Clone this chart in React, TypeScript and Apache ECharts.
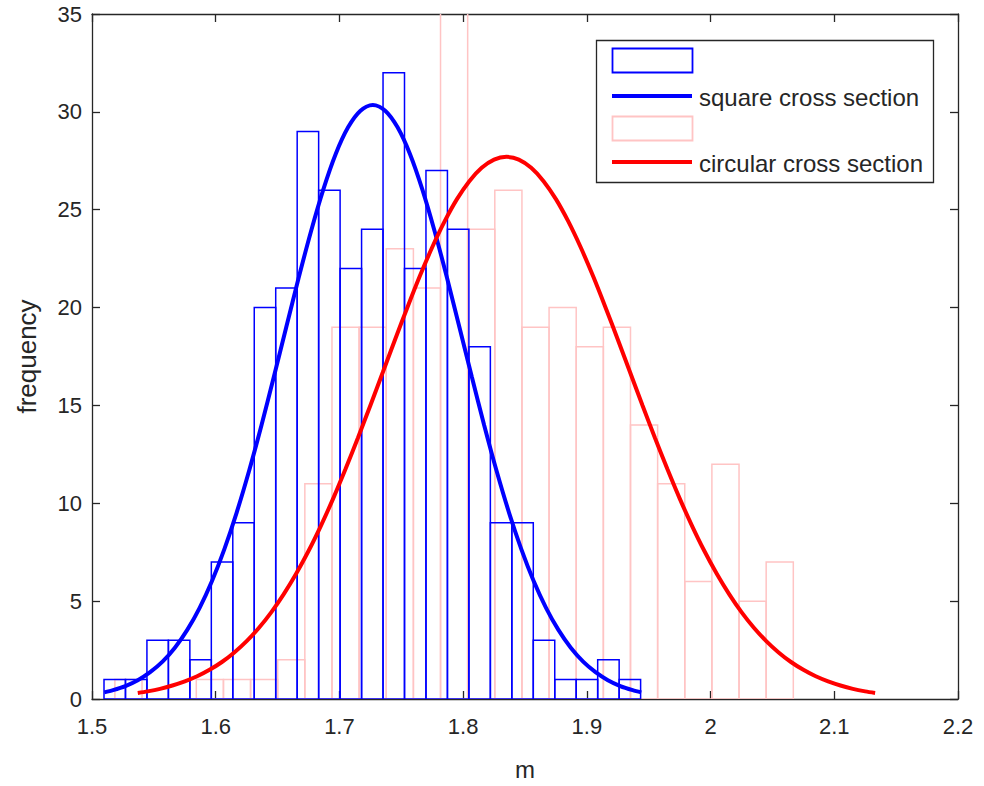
import React, { useEffect, useRef } from "react";
import * as echarts from "echarts";

// ---- data ----
const xAxisMin = 1.5;
const xAxisMax = 2.2;
const xAxisStep = 0.1;
const yAxisMin = 0;
const yAxisMax = 35;
const yAxisStep = 5;

const squareBinStart = 1.5097;
const squareBinWidth = 0.01735;
const squareCounts = [1, 1, 3, 3, 2, 7, 9, 20, 21, 29, 26, 22, 24, 32, 22, 27, 24, 18, 9, 9, 3, 1, 1, 2, 1];

const circularBinStart = 1.5185;
const circularBinWidth = 0.021935;
const circularCounts = [1, 0, 0, 1, 1, 1, 2, 11, 19, 19, 23, 21, 37, 24, 26, 19, 20, 18, 19, 14, 11, 6, 12, 5, 7];

const squareFitX = [
  1.51, 1.517, 1.527, 1.537, 1.547, 1.557, 1.567, 1.577, 1.587, 1.597, 1.607, 1.617, 1.627, 1.637, 1.647,
  1.657, 1.667, 1.677, 1.687, 1.697, 1.707, 1.717, 1.727, 1.737, 1.747, 1.757, 1.767, 1.777, 1.787, 1.797,
  1.807, 1.817, 1.827, 1.837, 1.847, 1.857, 1.867, 1.877, 1.887, 1.897, 1.907, 1.917, 1.927, 1.937, 1.944,
];
const squareFitY = [
  0.34, 0.45, 0.66, 0.96, 1.37, 1.91, 2.62, 3.53, 4.66, 6.03, 7.66, 9.54, 11.66, 13.99, 16.46,
  18.99, 21.51, 23.89, 26.04, 27.85, 29.21, 30.06, 30.35, 30.06, 29.21, 27.85, 26.04, 23.89, 21.51, 18.99,
  16.46, 13.99, 11.66, 9.54, 7.66, 6.03, 4.66, 3.53, 2.62, 1.91, 1.37, 0.96, 0.66, 0.45, 0.34,
];

const circularFitX = [
  1.537, 1.545, 1.555, 1.565, 1.575, 1.585, 1.595, 1.605, 1.615, 1.625, 1.635, 1.645, 1.655, 1.665, 1.675,
  1.685, 1.695, 1.705, 1.715, 1.725, 1.735, 1.745, 1.755, 1.765, 1.775, 1.785, 1.795, 1.805, 1.815, 1.825,
  1.835, 1.845, 1.855, 1.865, 1.875, 1.885, 1.895, 1.905, 1.915, 1.925, 1.935, 1.945, 1.955, 1.965, 1.975,
  1.985, 1.995, 2.005, 2.015, 2.025, 2.035, 2.045, 2.055, 2.065, 2.075, 2.085, 2.095, 2.105, 2.115, 2.125, 2.133,
];
const circularFitY = [
  0.31, 0.39, 0.52, 0.69, 0.9, 1.16, 1.49, 1.89, 2.38, 2.96, 3.64, 4.44, 5.36, 6.4, 7.56,
  8.85, 10.25, 11.76, 13.35, 15.0, 16.68, 18.37, 20.02, 21.61, 23.08, 24.4, 25.54, 26.46, 27.14, 27.56,
  27.7, 27.56, 27.14, 26.46, 25.54, 24.4, 23.08, 21.61, 20.02, 18.37, 16.68, 15.0, 13.35, 11.76, 10.25,
  8.85, 7.56, 6.4, 5.36, 4.44, 3.64, 2.96, 2.38, 1.89, 1.49, 1.16, 0.9, 0.69, 0.52, 0.39, 0.31,
];

const xLabel = "m";
const yLabel = "frequency";
const squareName = "square cross section";
const circularName = "circular cross section";

// ---- styles ----
const AXIS = "#262626";
const BLUE = "#0000ff";
const RED = "#ff0000";
const PINK = "#ffc4c4";
const FONT = "'Liberation Sans', Arial, Helvetica, sans-serif";

function binsFrom(start: number, width: number, counts: number[]) {
  return counts.map((c, i) => [start + i * width, start + (i + 1) * width, c]);
}

function histSeries(name: string, data: number[][], color: string, lw: number, z: number) {
  return {
    type: "custom",
    name,
    xAxisIndex: 0,
    yAxisIndex: 0,
    clip: true,
    z,
    data,
    renderItem: (params: any, api: any) => {
      const h = api.value(2);
      if (!h) return null;
      const p0 = api.coord([api.value(0), 0]);
      const p1 = api.coord([api.value(1), h]);
      return {
        type: "rect",
        shape: { x: p0[0], y: p1[1], width: p1[0] - p0[0], height: p0[1] - p1[1] },
        style: { fill: "none", stroke: color, lineWidth: lw },
      };
    },
  };
}

function axisCommon() {
  return {
    type: "value",
    axisLine: { show: true, onZero: false, lineStyle: { color: AXIS, width: 1.3 } },
    axisTick: { show: true, inside: true, length: 8, lineStyle: { color: AXIS, width: 1.3 } },
    splitLine: { show: false },
  };
}

export default function App() {
  const ref = useRef<HTMLDivElement>(null);
  useEffect(() => {
    if (!ref.current) return;
    const chart = echarts.init(ref.current, null, { renderer: "svg" });
    const labelStyle = { color: AXIS, fontSize: 22, fontFamily: FONT };
    const option: any = {
      animation: false,
      backgroundColor: "#ffffff",
      textStyle: { fontFamily: FONT },
      grid: { left: 92, right: 26, top: 14, bottom: 87, containLabel: false },
      xAxis: [
        {
          ...axisCommon(),
          position: "bottom",
          min: xAxisMin,
          max: xAxisMax,
          interval: xAxisStep,
          axisLabel: { ...labelStyle, margin: 16 },
          name: xLabel,
          nameLocation: "middle",
          nameGap: 58,
          nameTextStyle: { color: AXIS, fontSize: 24, fontFamily: FONT },
        },
        {
          ...axisCommon(),
          position: "top",
          min: xAxisMin,
          max: xAxisMax,
          interval: xAxisStep,
          axisLabel: { show: false },
        },
      ],
      yAxis: [
        {
          ...axisCommon(),
          position: "left",
          min: yAxisMin,
          max: yAxisMax,
          interval: yAxisStep,
          axisLabel: { ...labelStyle, margin: 10 },
          name: yLabel,
          nameLocation: "middle",
          nameGap: 52,
          nameTextStyle: { color: AXIS, fontSize: 26, fontFamily: FONT },
        },
        {
          ...axisCommon(),
          position: "right",
          min: yAxisMin,
          max: yAxisMax,
          interval: yAxisStep,
          axisLabel: { show: false },
        },
      ],
      series: [
        histSeries("circular histogram", binsFrom(circularBinStart, circularBinWidth, circularCounts), PINK, 1.5, 2),
        histSeries("square histogram", binsFrom(squareBinStart, squareBinWidth, squareCounts), BLUE, 1.5, 3),
        {
          type: "line",
          name: squareName,
          data: squareFitX.map((x, i) => [x, squareFitY[i]]),
          smooth: 0.3,
          showSymbol: false,
          symbol: "none",
          lineStyle: { color: BLUE, width: 4 },
          z: 4,
        },
        {
          type: "line",
          name: circularName,
          data: circularFitX.map((x, i) => [x, circularFitY[i]]),
          smooth: 0.3,
          showSymbol: false,
          symbol: "none",
          lineStyle: { color: RED, width: 4 },
          z: 5,
        },
      ],
      graphic: [
        {
          type: "group",
          z: 100,
          children: [
            { type: "rect", shape: { x: 596.5, y: 40.5, width: 337, height: 142 }, style: { fill: "#ffffff", stroke: AXIS, lineWidth: 1.3 } },
            { type: "rect", shape: { x: 612.5, y: 48.5, width: 80, height: 24 }, style: { fill: "none", stroke: BLUE, lineWidth: 1.8 } },
            { type: "line", shape: { x1: 612, y1: 96, x2: 692, y2: 96 }, style: { stroke: BLUE, lineWidth: 4 } },
            { type: "rect", shape: { x: 612.5, y: 116.5, width: 80, height: 24 }, style: { fill: "none", stroke: PINK, lineWidth: 1.8 } },
            { type: "line", shape: { x1: 612, y1: 162, x2: 692, y2: 162 }, style: { stroke: RED, lineWidth: 4 } },
            { type: "text", x: 699, y: 97, style: { text: squareName, fill: AXIS, font: `24px ${FONT}`, verticalAlign: "middle", align: "left" } },
            { type: "text", x: 699, y: 163, style: { text: circularName, fill: AXIS, font: `24px ${FONT}`, verticalAlign: "middle", align: "left" } },
          ],
        },
      ],
    };
    chart.setOption(option);
    return () => chart.dispose();
  }, []);
  return <div ref={ref} style={{ position: "fixed", left: 0, top: 0, width: 984, height: 786, background: "#fff" }} />;
}
